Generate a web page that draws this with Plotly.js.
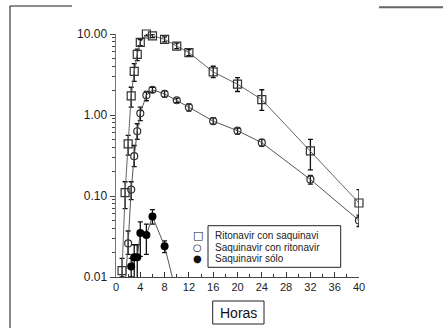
<!DOCTYPE html>
<html>
<head>
<meta charset="utf-8">
<script src="https://cdn.plot.ly/plotly-3.0.1.min.js"></script>
<style>html,body{margin:0;padding:0;background:#fff;}#chart{width:443px;height:328px;}</style>
</head>
<body>
<div id="chart"></div>
<script>
// ---- data ----
const seriesNames = ["Ritonavir con saquinavi", "Saquinavir con ritonavir", "Saquinavir sólo"];

const hoursRitSaq = [1, 1.5, 2, 2.5, 3, 3.5, 4, 5, 6, 8, 10, 12, 16, 20, 24, 32, 40];
const ritSaq      = [0.012, 0.11, 0.44, 1.72, 3.45, 5.6, 7.9, 10.0, 9.5, 8.6, 7.1, 5.9, 3.4, 2.4, 1.55, 0.36, 0.082];
const ritSaqHigh  = [0.017, 0.15, 0.56, 2.2, 4.3, 6.5, 8.5, 10.5, 10.0, 9.2, 7.7, 6.4, 4.0, 2.9, 2.05, 0.50, 0.12];
const ritSaqLow   = [0.010, 0.07, 0.32, 1.25, 2.6, 4.7, 7.2, 9.5, 9.0, 8.0, 6.6, 5.4, 2.9, 1.95, 1.14, 0.21, 0.055];

const hoursSaqRit = [1.5, 2, 2.5, 3, 3.5, 4, 5, 6, 8, 10, 12, 16, 20, 24, 32, 40];
const saqRit      = [0.008, 0.026, 0.12, 0.31, 0.63, 1.05, 1.75, 2.05, 1.82, 1.52, 1.25, 0.84, 0.64, 0.455, 0.16, 0.05];
const saqRitHigh  = [0.008, 0.037, 0.15, 0.42, 0.78, 1.25, 1.95, 2.2, 1.98, 1.62, 1.36, 0.93, 0.69, 0.50, 0.18, 0.058];
const saqRitLow   = [0.008, 0.019, 0.09, 0.23, 0.50, 0.85, 1.50, 1.9, 1.66, 1.42, 1.12, 0.77, 0.58, 0.41, 0.14, 0.042];

const hoursSaq = [2.5, 3, 3.5, 4, 5, 6, 8, 10];
const saqSolo  = [0.0135, 0.0175, 0.0175, 0.035, 0.033, 0.056, 0.024, 0.006];
const saqHigh  = [0.017, 0.025, 0.025, 0.048, 0.045, 0.068, 0.028, 0.006];
const saqLow   = [0.010, 0.009, 0.009, 0.018, 0.019, 0.045, 0.020, 0.006];

const xTicks = [0, 4, 8, 12, 16, 20, 24, 28, 32, 36, 40];
const yTicks = [0.01, 0.1, 1, 10];
const yTickText = ["0.01", "0.10", "1.00", "10.00"];
const yMinor = [];
[0.01, 0.1, 1].forEach(d => { for (let k = 2; k <= 9; k++) yMinor.push(+(d * k).toPrecision(3)); });
const xTitle = "Horas";

// ---- geometry helpers ----
const W = 443, H = 328, ML = 116, MR = 84, MT = 34, MB = 51;
const PW = W - ML - MR, PH = H - MT - MB;
const px = x => (x - ML) / PW;
const py = y => (H - MB - y) / PH;

const plus = (v, hi) => v.map((d, i) => Math.max(hi[i] - d, 0));
const minus = (v, lo) => v.map((d, i) => Math.max(d - lo[i], 0));

const errStyle = (v, hi, lo) => ({
  type: 'data', symmetric: false, array: plus(v, hi), arrayminus: minus(v, lo),
  color: '#111', thickness: 1.3, width: 2.5
});

const traces = [
  {
    x: hoursRitSaq, y: ritSaq, name: seriesNames[0], type: 'scatter', mode: 'lines+markers',
    cliponaxis: false,
    line: {color: '#666', width: 1},
    marker: {symbol: 'square-open', size: 8, color: '#333', line: {width: 1.2}},
    error_y: errStyle(ritSaq, ritSaqHigh, ritSaqLow)
  },
  {
    x: hoursSaqRit, y: saqRit, name: seriesNames[1], type: 'scatter', mode: 'lines+markers',
    line: {color: '#555', width: 1},
    marker: {symbol: 'circle-open', size: 7, color: '#333', line: {width: 1.2}},
    error_y: errStyle(saqRit, saqRitHigh, saqRitLow)
  },
  {
    x: hoursSaq, y: saqSolo, name: seriesNames[2], type: 'scatter', mode: 'lines+markers',
    line: {color: '#555', width: 1},
    marker: {symbol: 'circle', size: 8, color: '#000'},
    error_y: errStyle(saqSolo, saqHigh, saqLow)
  }
];

const font = 'Arial, "Liberation Sans", sans-serif';
const legendSymbols = ['□', '○', '●'];
const legendSymbolSize = [11, 10, 10];
const legendRows = [235, 247.5, 258.5];

const annotations = [
  {xref: 'paper', yref: 'paper', x: px(238.3), y: py(312.5), text: xTitle, showarrow: false,
   xanchor: 'center', yanchor: 'middle', font: {family: font, size: 14, color: '#111'}}
];
seriesNames.forEach((n, i) => {
  annotations.push({xref: 'paper', yref: 'paper', x: px(213), y: py(legendRows[i]), text: n, showarrow: false,
    xanchor: 'left', yanchor: 'middle', font: {family: font, size: 10, color: '#222'}});
  annotations.push({xref: 'paper', yref: 'paper', x: px(197.7), y: py(legendRows[i]), text: legendSymbols[i], showarrow: false,
    xanchor: 'center', yanchor: 'middle', font: {family: '"DejaVu Sans", sans-serif', size: legendSymbolSize[i], color: '#111'}});
});

const shapes = [
  // legend box
  {type: 'rect', xref: 'paper', yref: 'paper', x0: px(208), x1: px(340.7), y0: py(267.3), y1: py(225.7),
   line: {color: '#222', width: 1}},
  // "Horas" box
  {type: 'rect', xref: 'paper', yref: 'paper', x0: px(212.7), x1: px(264), y0: py(324), y1: py(301),
   line: {color: '#222', width: 1}},
  // frame decorations
  {type: 'line', xref: 'paper', yref: 'paper', x0: px(10), x1: px(72), y0: py(6), y1: py(6),
   line: {color: '#666', width: 1.5}},
  {type: 'line', xref: 'paper', yref: 'paper', x0: px(379), x1: px(443), y0: py(7.3), y1: py(7.3),
   line: {color: '#666', width: 2}},
  {type: 'line', xref: 'paper', yref: 'paper', x0: px(10), x1: px(10), y0: py(6), y1: py(330),
   line: {color: '#111', width: 1}}
];

const layout = {
  width: W, height: H,
  margin: {l: ML, r: MR, t: MT, b: MB, pad: 0},
  paper_bgcolor: '#fff', plot_bgcolor: '#fff',
  showlegend: false,
  font: {family: font, color: '#222'},
  xaxis: {
    range: [0, 40], tickmode: 'array', tickvals: xTicks, ticktext: xTicks.map(String),
    ticks: 'inside', ticklen: 5, tickcolor: '#333', tickwidth: 1,
    minor: {tickmode: 'linear', tick0: 0, dtick: 2, ticks: 'inside', ticklen: 3, tickcolor: '#333', showgrid: false},
    showline: true, linecolor: '#444', linewidth: 1, showgrid: false, zeroline: false,
    tickfont: {family: font, size: 11, color: '#222'}
  },
  yaxis: {
    type: 'log', range: [-2, 1], tickmode: 'array', tickvals: yTicks, ticktext: yTickText,
    ticks: 'outside', ticklen: 5, tickcolor: '#444', tickwidth: 1,
    minor: {tickmode: 'array', tickvals: yMinor, ticks: 'outside', ticklen: 3, tickcolor: '#444', showgrid: false},
    showline: true, linecolor: '#777', linewidth: 1.5, showgrid: false, zeroline: false,
    tickfont: {family: font, size: 12, color: '#222'}
  },
  annotations: annotations,
  shapes: shapes
};

Plotly.newPlot('chart', traces, layout, {staticPlot: true, displayModeBar: false});
</script>
</body>
</html>
